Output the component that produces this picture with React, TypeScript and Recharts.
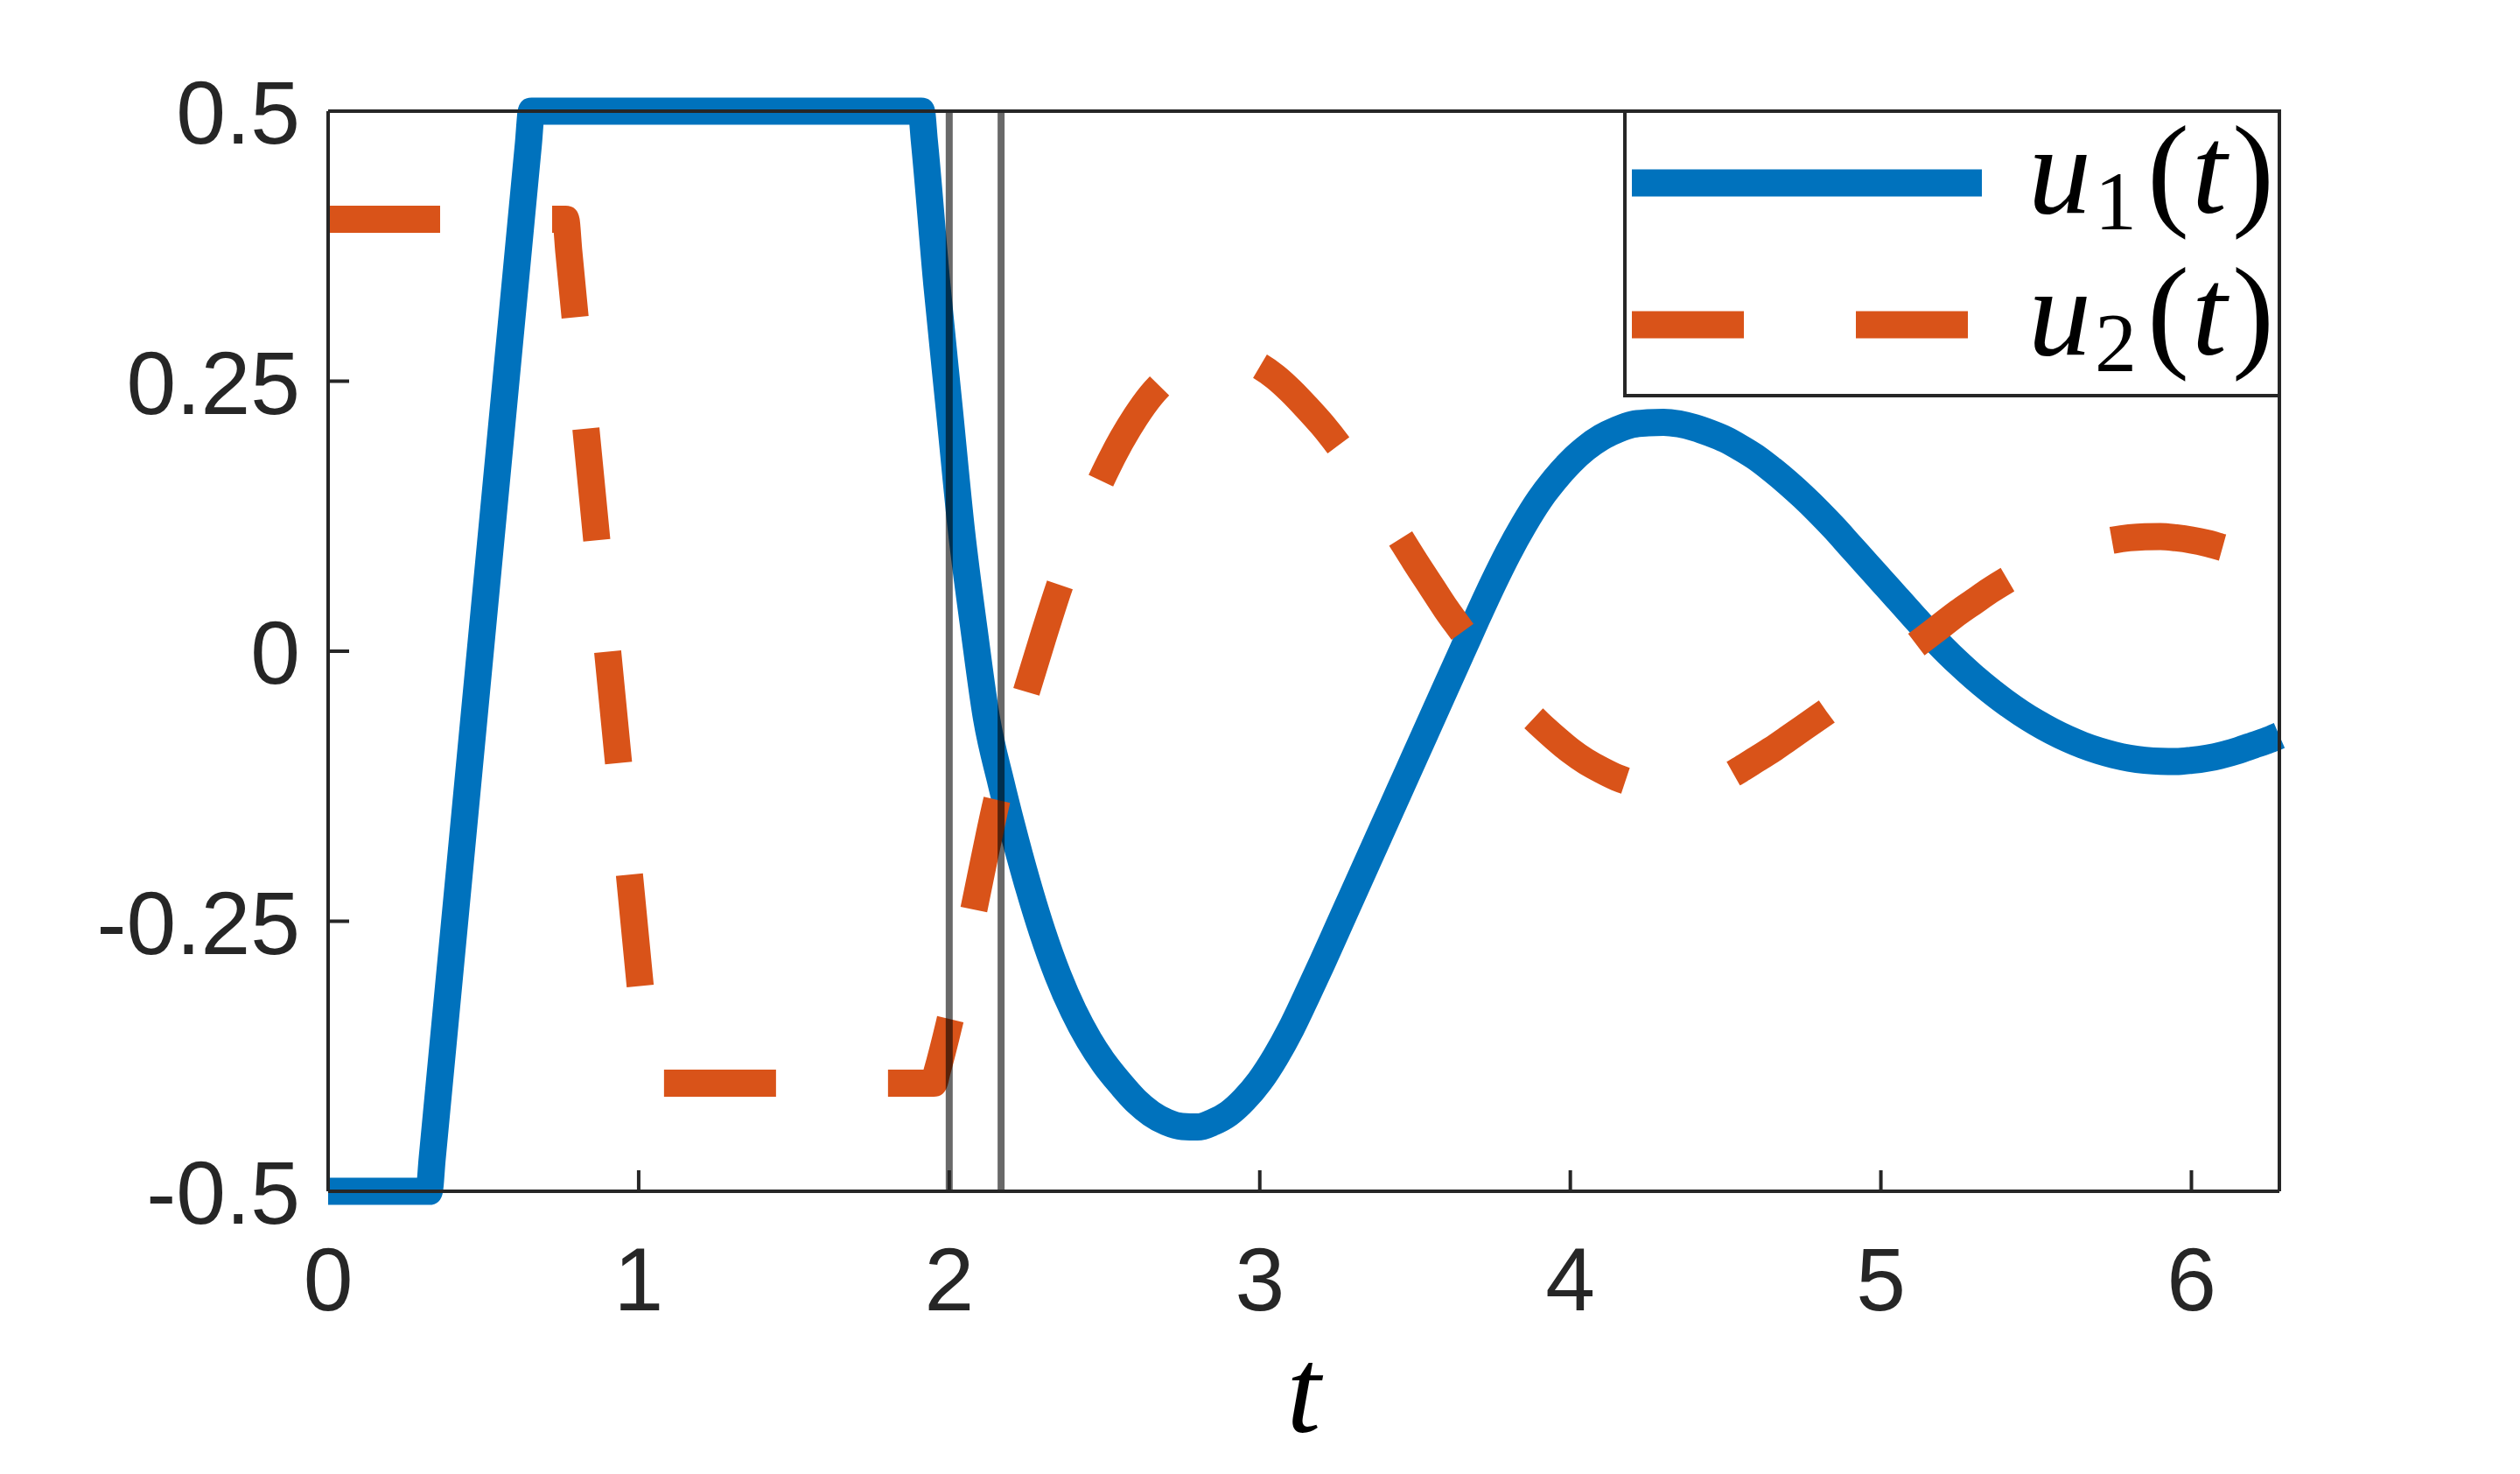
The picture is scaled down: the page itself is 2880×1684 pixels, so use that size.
import { LineChart, Line, XAxis, YAxis, ReferenceLine } from 'recharts';

// u1(t): rate-limited ramp, then damped response
const u1Time = [
  0, 0.325, 0.335, 0.645, 0.655, 1.91, 1.92, 1.96, 2.0, 2.04, 2.08, 2.12, 2.167, 2.2, 2.25, 2.3,
  2.35, 2.4, 2.45, 2.5, 2.55, 2.6, 2.65, 2.7, 2.75, 2.8, 2.85, 2.9, 2.95, 3.0, 3.05, 3.1, 3.15,
  3.2, 3.25, 3.3, 3.35, 3.4, 3.45, 3.5, 3.55, 3.6, 3.65, 3.7, 3.75, 3.8, 3.85, 3.9, 3.95, 4.0,
  4.05, 4.1, 4.15, 4.2, 4.25, 4.3, 4.35, 4.4, 4.45, 4.5, 4.55, 4.6, 4.65, 4.7, 4.75, 4.8, 4.85,
  4.9, 4.95, 5.0, 5.05, 5.1, 5.15, 5.2, 5.25, 5.3, 5.35, 5.4, 5.45, 5.5, 5.55, 5.6, 5.65, 5.7,
  5.75, 5.8, 5.85, 5.9, 5.95, 6.0, 6.05, 6.1, 6.15, 6.2, 6.25, 6.283,
];
const u1Values = [
  -0.5, -0.5, -0.47, 0.47, 0.5, 0.5, 0.472, 0.34, 0.225, 0.11, 0.02, -0.062, -0.122, -0.16,
  -0.213, -0.26, -0.3, -0.333, -0.36, -0.382, -0.4, -0.416, -0.428, -0.436, -0.44, -0.4405,
  -0.436, -0.428, -0.415, -0.398, -0.376, -0.35, -0.32, -0.289, -0.257, -0.225, -0.193, -0.161,
  -0.129, -0.097, -0.065, -0.033, -0.001, 0.031, 0.062, 0.091, 0.117, 0.14, 0.159, 0.175, 0.188,
  0.198, 0.205, 0.21, 0.2115, 0.212, 0.2105, 0.207, 0.202, 0.196, 0.188, 0.179, 0.168, 0.156,
  0.143, 0.129, 0.114, 0.098, 0.082, 0.066, 0.05, 0.034, 0.018, 0.003, -0.011, -0.024, -0.036,
  -0.047, -0.057, -0.066, -0.074, -0.081, -0.087, -0.092, -0.096, -0.099, -0.101, -0.102,
  -0.1022, -0.101, -0.099, -0.096, -0.092, -0.087, -0.082, -0.078,
];

// u2(t)
const u2Time = [
  0, 0.765, 0.775, 1.025, 1.035, 1.95, 1.96, 2.0, 2.05, 2.1, 2.15, 2.2, 2.25, 2.3, 2.35, 2.4,
  2.45, 2.5, 2.55, 2.6, 2.65, 2.7, 2.75, 2.8, 2.85, 2.9, 2.95, 3.0, 3.05, 3.1, 3.15, 3.2, 3.25,
  3.3, 3.35, 3.4, 3.45, 3.5, 3.55, 3.6, 3.65, 3.7, 3.75, 3.8, 3.85, 3.9, 3.95, 4.0, 4.05, 4.1,
  4.15, 4.2, 4.25, 4.3, 4.35, 4.4, 4.45, 4.5, 4.55, 4.6, 4.65, 4.7, 4.75, 4.8, 4.85, 4.9, 4.95,
  5.0, 5.05, 5.1, 5.15, 5.2, 5.25, 5.3, 5.35, 5.4, 5.45, 5.5, 5.55, 5.6, 5.65, 5.7, 5.75, 5.8,
  5.85, 5.9, 5.95, 6.0, 6.05, 6.1, 6.15, 6.2, 6.25, 6.283,
];
const u2Values = [
  0.4, 0.4, 0.37, -0.37, -0.4, -0.4, -0.39, -0.345, -0.28, -0.21, -0.142, -0.086, -0.036, 0.011,
  0.056, 0.097, 0.133, 0.165, 0.193, 0.217, 0.237, 0.252, 0.263, 0.27, 0.274, 0.2745, 0.271,
  0.264, 0.254, 0.241, 0.226, 0.21, 0.192, 0.172, 0.151, 0.129, 0.106, 0.083, 0.061, 0.039,
  0.019, -0.001, -0.02, -0.037, -0.053, -0.067, -0.08, -0.092, -0.102, -0.11, -0.117, -0.122,
  -0.126, -0.128, -0.1285, -0.127, -0.123, -0.117, -0.109, -0.1, -0.091, -0.081, -0.071, -0.061,
  -0.051, -0.041, -0.03, -0.019, -0.008, 0.003, 0.014, 0.025, 0.036, 0.046, 0.056, 0.065, 0.073,
  0.08, 0.086, 0.091, 0.096, 0.1, 0.103, 0.105, 0.106, 0.1062, 0.105, 0.103, 0.1, 0.096, 0.092,
  0.087, 0.082, 0.079,
];

const switchTimes = [2.0, 2.167];
const xTicks = [0, 1, 2, 3, 4, 5, 6];
const yTicks = [-0.5, -0.25, 0, 0.25, 0.5];
const yTickLabels = ['-0.5', '-0.25', '0', '0.25', '0.5'];
const seriesSubscripts = ['1', '2'];
const seriesColors = ['#0072BD', '#D95319'];

const u1Data = u1Time.map((t, i) => ({ t, u: u1Values[i] }));
const u2Data = u2Time.map((t, i) => ({ t, u: u2Values[i] }));

const AXIS = '#262626';
const SANS = "'Liberation Sans', Arial, Helvetica, sans-serif";
const SERIF = "'Liberation Serif', 'Times New Roman', serif";
const TICK_LEN = 24;

function BottomTick(props: any) {
  const { x, y, payload } = props;
  return (
    <g>
      <line x1={x} y1={y} x2={x} y2={y - TICK_LEN} stroke={AXIS} strokeWidth={4} />
      <text x={x} y={y + 136} textAnchor="middle" fontSize={102} fontFamily={SANS} fill={AXIS}>
        {payload.value}
      </text>
    </g>
  );
}

function TopTick(props: any) {
  const { x, y } = props;
  return <line x1={x} y1={y} x2={x} y2={y + TICK_LEN} stroke={AXIS} strokeWidth={4} />;
}

function LeftTick(props: any) {
  const { x, y, payload } = props;
  const idx = yTicks.indexOf(payload.value);
  return (
    <g>
      <line x1={x} y1={y} x2={x + TICK_LEN} y2={y} stroke={AXIS} strokeWidth={4} />
      <text x={x - 32} y={y + 37} textAnchor="end" fontSize={102} fontFamily={SANS} fill={AXIS}>
        {idx >= 0 ? yTickLabels[idx] : payload.value}
      </text>
    </g>
  );
}

function RightTick(props: any) {
  const { x, y } = props;
  return <line x1={x} y1={y} x2={x - TICK_LEN} y2={y} stroke={AXIS} strokeWidth={4} />;
}

export default function App() {
  const axisLine = { stroke: AXIS, strokeWidth: 4 };
  return (
    <div style={{ position: 'absolute', left: 0, top: 0, width: 2880, height: 1684, background: '#fff' }}>
      <LineChart width={2880} height={1684} margin={{ top: 126, right: 274, bottom: 123, left: 175 }}>
        <XAxis
          xAxisId="b"
          type="number"
          dataKey="t"
          domain={[0, 2 * Math.PI]}
          ticks={xTicks}
          interval={0}
          orientation="bottom"
          height={200}
          tickSize={0}
          tickMargin={0}
          tickLine={false}
          axisLine={axisLine}
          tick={(p: any) => <BottomTick {...p} />}
        />
        <XAxis
          xAxisId="t"
          type="number"
          dataKey="t"
          domain={[0, 2 * Math.PI]}
          ticks={xTicks}
          interval={0}
          orientation="top"
          height={1}
          tickSize={0}
          tickMargin={0}
          tickLine={false}
          axisLine={axisLine}
          tick={(p: any) => <TopTick {...p} />}
        />
        <YAxis
          yAxisId="l"
          type="number"
          domain={[-0.5, 0.5]}
          ticks={yTicks}
          interval={0}
          orientation="left"
          width={200}
          tickSize={0}
          tickMargin={0}
          tickLine={false}
          axisLine={axisLine}
          tick={(p: any) => <LeftTick {...p} />}
        />
        <YAxis
          yAxisId="r"
          type="number"
          domain={[-0.5, 0.5]}
          ticks={yTicks}
          interval={0}
          orientation="right"
          width={1}
          tickSize={0}
          tickMargin={0}
          tickLine={false}
          axisLine={axisLine}
          tick={(p: any) => <RightTick {...p} />}
        />
        <Line
          xAxisId="b"
          yAxisId="l"
          data={u1Data}
          dataKey="u"
          type="monotoneX"
          stroke={seriesColors[0]}
          strokeWidth={31}
          strokeLinejoin="round"
          strokeLinecap="butt"
          dot={false}
          activeDot={false}
          isAnimationActive={false}
        />
        <Line
          xAxisId="b"
          yAxisId="l"
          data={u2Data}
          dataKey="u"
          type="monotoneX"
          stroke={seriesColors[1]}
          strokeWidth={31}
          strokeDasharray="128 128"
          strokeLinejoin="round"
          strokeLinecap="butt"
          dot={false}
          activeDot={false}
          isAnimationActive={false}
        />
        {switchTimes.map((t) => (
          <ReferenceLine
            key={t}
            xAxisId="b"
            yAxisId="l"
            x={t}
            stroke="#000"
            strokeOpacity={0.59}
            strokeWidth={8}
          />
        ))}
      </LineChart>
      <svg
        width={2880}
        height={1684}
        style={{ position: 'absolute', left: 0, top: 0, pointerEvents: 'none' }}
      >
        <rect x={1857} y={127} width={748} height={325} fill="#fff" stroke={AXIS} strokeWidth={4} />
        {seriesSubscripts.map((s, i) => {
          const cy = i === 0 ? 209 : 371;
          return (
            <g key={s}>
              <line
                x1={1865}
                y1={cy}
                x2={2265}
                y2={cy}
                stroke={seriesColors[i]}
                strokeWidth={31}
                strokeDasharray={i === 1 ? '128 128' : undefined}
              />
              <text x={2318} y={cy + 34} fontFamily={SERIF} fontSize={144} fill="#000">
                <tspan fontStyle="italic">u</tspan>
                <tspan fontSize={96} dy={19} dx={4}>{s}</tspan>
                <tspan dy={-19} dx={12}>(</tspan>
                <tspan fontStyle="italic" dx={3}>t</tspan>
                <tspan dx={6}>)</tspan>
              </text>
            </g>
          );
        })}
        <text x={1490} y={1636} textAnchor="middle" fontFamily={SERIF} fontStyle="italic" fontSize={140} fill="#000">
          t
        </text>
      </svg>
    </div>
  );
}
